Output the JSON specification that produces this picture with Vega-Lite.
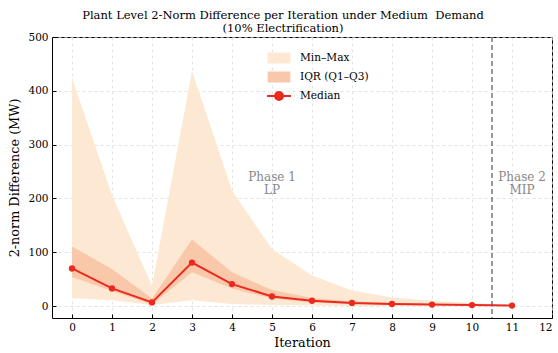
{
  "$schema": "https://vega.github.io/schema/vega-lite/v6.json",
  "width": 500,
  "height": 281,
  "autosize": {"type": "none"},
  "padding": {"left": 52, "top": 37, "right": 6, "bottom": 35},
  "background": "white",
  "title": {
    "text": ["Plant Level 2-Norm Difference per Iteration under Medium\u00a0 Demand", "(10% Electrification)"],
    "anchor": "middle",
    "offset": -2,
    "dx": -19,
    "font": "DejaVu Serif",
    "fontSize": 11.5,
    "fontWeight": "normal",
    "color": "black",
    "lineHeight": 13
  },
  "config": {
    "font": "DejaVu Serif",
    "title": {"font": "DejaVu Serif", "fontSize": 11.5, "fontWeight": "normal", "color": "black", "lineHeight": 13},
    "legend": {"labelFont": "DejaVu Serif", "labelFontSize": 10.6, "labelColor": "black"},
    "style": {
      "guide-label": {"font": "DejaVu Serif"},
      "guide-title": {"font": "DejaVu Serif"},
      "group-title": {"font": "DejaVu Serif", "fontWeight": "normal"}
    },
    "text": {"font": "DejaVu Serif"},
    "view": {"stroke": "black", "strokeWidth": 1},
    "axis": {
      "labelFont": "DejaVu Serif",
      "labelFontSize": 10.5,
      "labelColor": "black",
      "titleFont": "DejaVu Serif",
      "titleFontSize": 12.8,
      "titleFontWeight": "normal",
      "titleColor": "black",
      "domain": false,
      "tickColor": "black",
      "tickSize": -4,
      "labelPadding": 8,
      "grid": true,
      "gridColor": "#d9d9d9",
      "gridDash": [3, 3],
      "gridWidth": 0.7
    }
  },
  "datasets": {
    "stats": [
      {"iter": 0, "min": 15, "q1": 54, "median": 70, "q3": 111, "max": 424},
      {"iter": 1, "min": 11, "q1": 28, "median": 33, "q3": 69, "max": 206},
      {"iter": 2, "min": 2, "q1": 3, "median": 7, "q3": 14, "max": 38},
      {"iter": 3, "min": 11, "q1": 63, "median": 81, "q3": 124, "max": 437},
      {"iter": 4, "min": 4, "q1": 33, "median": 41, "q3": 63, "max": 215},
      {"iter": 5, "min": 2, "q1": 14, "median": 18, "q3": 30, "max": 106},
      {"iter": 6, "min": 1, "q1": 7, "median": 10, "q3": 15, "max": 57},
      {"iter": 7, "min": 0.5, "q1": 4, "median": 6, "q3": 9, "max": 29},
      {"iter": 8, "min": 0.3, "q1": 2.5, "median": 4, "q3": 6, "max": 16},
      {"iter": 9, "min": 0.2, "q1": 1.5, "median": 3, "q3": 4, "max": 10},
      {"iter": 10, "min": 0.1, "q1": 1, "median": 2, "q3": 3, "max": 6},
      {"iter": 11, "min": 0.5, "q1": 0.8, "median": 1, "q3": 1.2, "max": 1.5}
    ],
    "phases": [
      {"x": 5, "y": 240, "label": ["Phase 1", "LP"]},
      {"x": 11.25, "y": 240, "label": ["Phase 2", "MIP"]}
    ],
    "divider": [{"x": 10.5}]
  },
  "layer": [
    {
      "data": {"name": "stats"},
      "mark": {"type": "area", "opacity": 1},
      "encoding": {
        "x": {"field": "iter", "type": "quantitative",
          "scale": {"domain": [-0.5, 12], "nice": false, "zero": false},
          "axis": {"title": "Iteration", "values": [0,1,2,3,4,5,6,7,8,9,10,11,12], "format": "d", "titlePadding": 4}},
        "y": {"field": "min", "type": "quantitative",
          "scale": {"domain": [-22, 500], "nice": false, "zero": false},
          "axis": {"title": "2-norm Difference (MW)", "values": [0,100,200,300,400,500], "titlePadding": 6}},
        "y2": {"field": "max"},
        "color": {"datum": "Min–Max", "type": "nominal",
          "scale": {"domain": ["Min–Max", "IQR (Q1–Q3)", "Median"], "range": ["#fde9d3", "#f9c8aa", "#ea2a1e"]},
          "legend": {
            "title": null,
            "orient": "none",
            "legendX": 218,
            "legendY": 12,
            "labelFont": "DejaVu Serif",
            "labelFontSize": 10.6,
            "labelColor": "black",
            "symbolSize": 256,
            "symbolOpacity": 1,
            "rowPadding": 1,
            "labelOffset": 12,
            "encode": {
              "symbols": {
                "update": {
                  "shape": {"signal": "datum.value === 'Median' ? 'M-1.5,0H1.5M0.5,0A0.5,0.5,0,1,1,-0.5,0A0.5,0.5,0,1,1,0.5,0Z' : 'M-1.3,-0.55H1.3V0.55H-1.3Z'"},
                  "fill": {"signal": "scale('color', datum.value)"},
                  "stroke": {"signal": "datum.value === 'Median' ? '#ea2a1e' : 'transparent'"},
                  "strokeWidth": {"value": 2},
                  "opacity": {"value": 1}
                }
              }
            }
          }
        }
      }
    },
    {
      "data": {"name": "stats"},
      "mark": {"type": "area", "opacity": 1},
      "encoding": {
        "x": {"field": "iter", "type": "quantitative"},
        "y": {"field": "q1", "type": "quantitative"},
        "y2": {"field": "q3"},
        "color": {"datum": "IQR (Q1–Q3)", "type": "nominal"}
      }
    },
    {
      "data": {"name": "stats"},
      "mark": {"type": "line", "strokeWidth": 2, "point": {"filled": true, "size": 40}},
      "encoding": {
        "x": {"field": "iter", "type": "quantitative"},
        "y": {"field": "median", "type": "quantitative"},
        "color": {"datum": "Median", "type": "nominal"}
      }
    },
    {
      "data": {"name": "divider"},
      "mark": {"type": "rule", "color": "#555555", "strokeDash": [5, 3], "strokeWidth": 1.2},
      "encoding": {
        "x": {"field": "x", "type": "quantitative"}
      }
    },
    {
      "data": {"name": "phases"},
      "mark": {"type": "text", "font": "DejaVu Serif", "fontSize": 12, "color": "#888888", "align": "center", "baseline": "middle", "lineHeight": 13},
      "encoding": {
        "x": {"field": "x", "type": "quantitative"},
        "y": {"field": "y", "type": "quantitative"},
        "text": {"field": "label"}
      }
    }
  ]
}
